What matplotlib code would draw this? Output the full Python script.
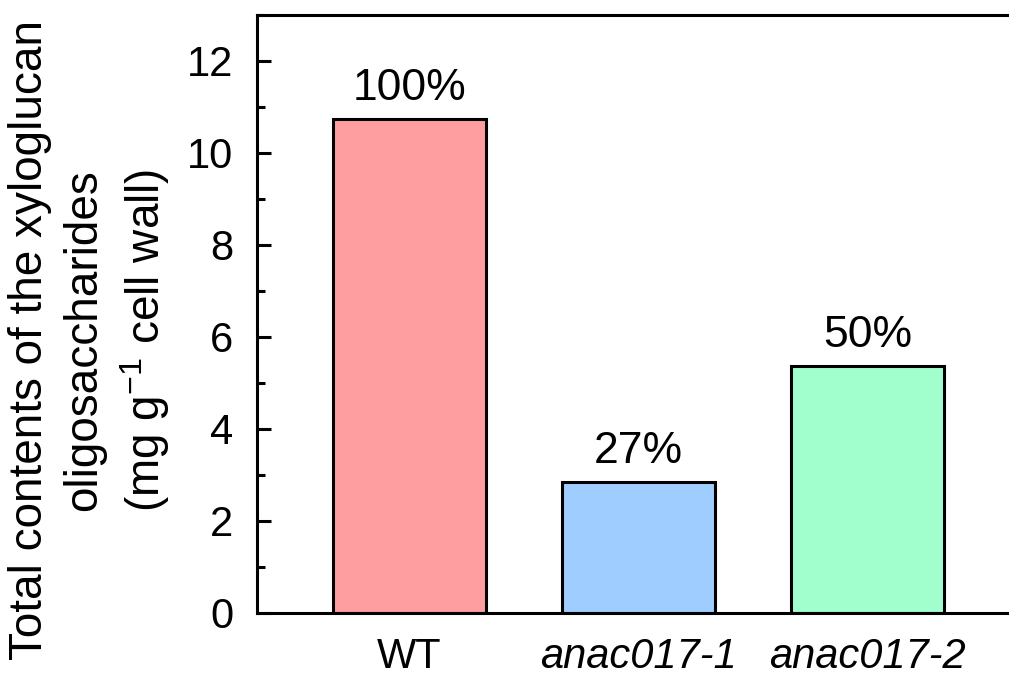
import matplotlib.pyplot as plt
from matplotlib.ticker import MultipleLocator

plt.rcParams['font.family'] = ['Liberation Sans', 'DejaVu Sans']
plt.rcParams['mathtext.fontset'] = 'custom'
plt.rcParams['mathtext.rm'] = 'Liberation Sans'
plt.rcParams['mathtext.it'] = 'Liberation Sans:italic'

# data
genotypes = ['WT', 'anac017-1', 'anac017-2']
contents = [10.75, 2.85, 5.37]
percent_labels = ['100%', '27%', '50%']
bar_colors = ['#FF9EA0', '#A0CDFF', '#A0FFCD']

W, H = 1009, 680
fig = plt.figure(figsize=(W / 100, H / 100), dpi=100)
left, right, bottom, top = 257, 1012, 613, 15
ax = fig.add_axes([left / W, (H - bottom) / H, (right - left) / W, (bottom - top) / H])

x = list(range(len(genotypes)))
ax.bar(x, contents, width=0.67, color=bar_colors, edgecolor='black', linewidth=2.2, zorder=2)

for xi, val, lab in zip(x, contents, percent_labels):
    ax.annotate(lab, (xi, val), xytext=(0, 7), textcoords='offset points',
                ha='center', va='bottom', fontsize=32)

ax.set_xlim(-0.666, 2.63)
ax.set_ylim(0, 13)
ax.yaxis.set_major_locator(MultipleLocator(2))
ax.yaxis.set_minor_locator(MultipleLocator(1))
ax.tick_params(axis='y', which='major', direction='in', length=10, width=2.2,
               labelsize=30, pad=17)
ax.tick_params(axis='y', which='minor', direction='in', length=6, width=2.2)
ax.tick_params(axis='x', length=0, labelsize=30, pad=17)
ax.set_xticks(x)
ax.set_xticklabels(genotypes)
for t in ax.get_xticklabels()[1:]:
    t.set_style('italic')

for s in ax.spines.values():
    s.set_linewidth(2.2)

fig.text(90 / W, 0.5,
         'Total contents of the xyloglucan\noligosaccharides\n(mg g$^{-1}$ cell wall)',
         rotation=90, ha='center', va='center', fontsize=33, linespacing=1.3,
         multialignment='center')

fig.savefig('out.png', dpi=100)
